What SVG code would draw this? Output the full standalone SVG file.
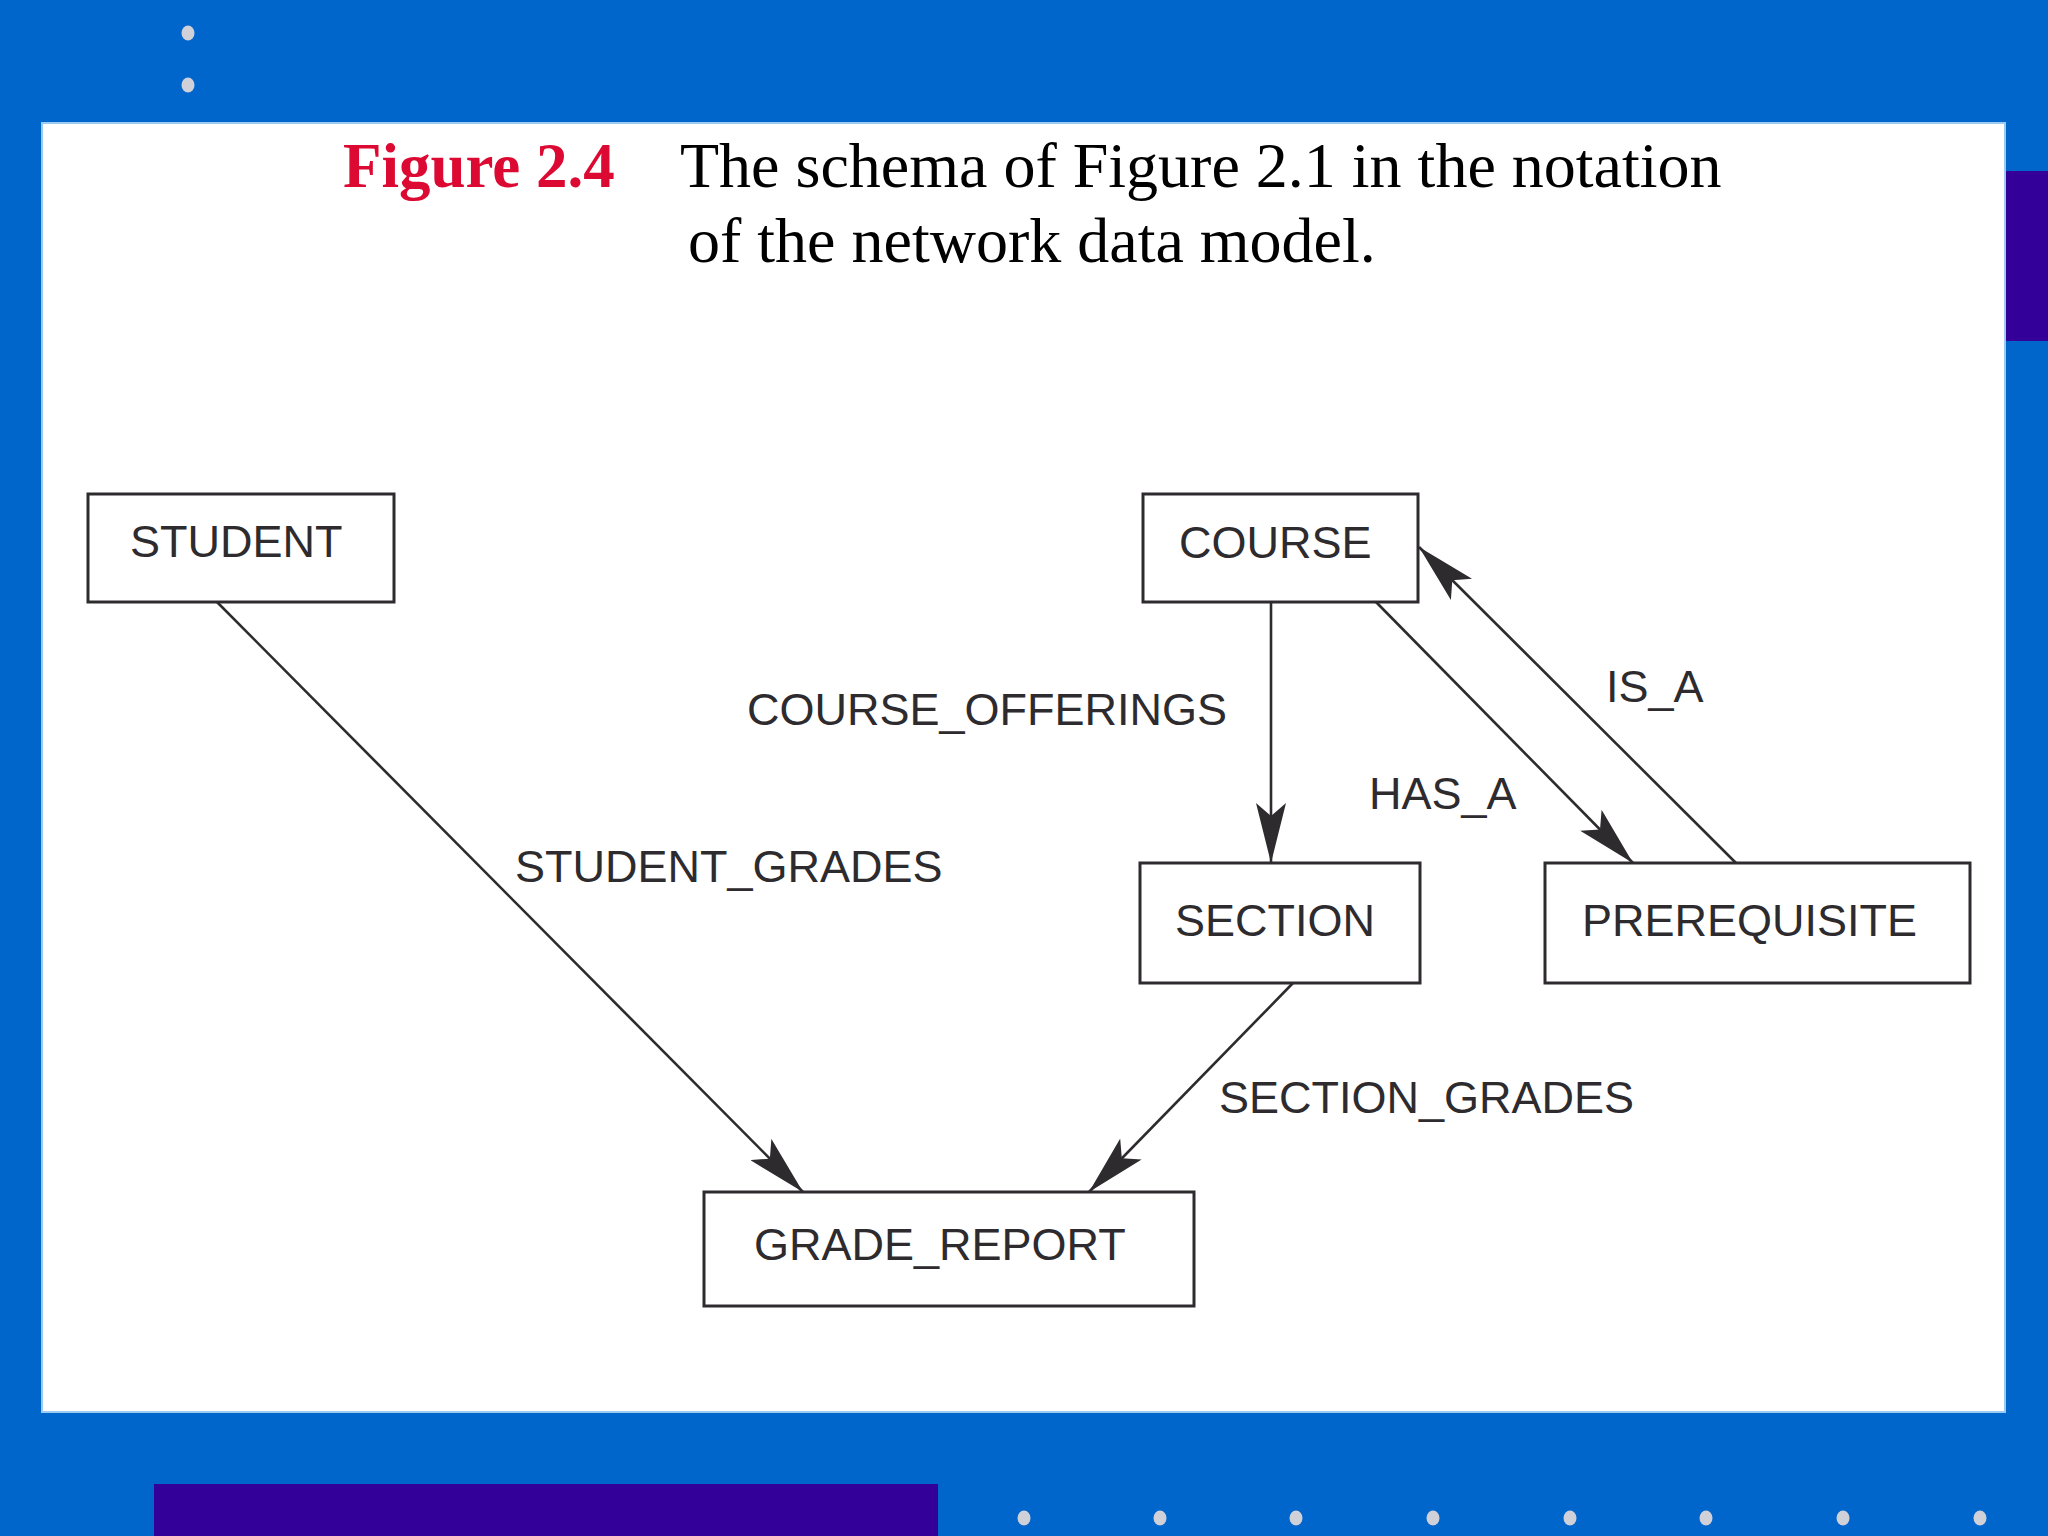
<svg xmlns="http://www.w3.org/2000/svg" width="2048" height="1536" viewBox="0 0 2048 1536">
<style>
.bg{fill:#0066CC}
.bar{fill:#330099}
.dot{fill:#D0D0D8}
.box{fill:#FFFFFF;stroke:#2E2B2E;stroke-width:3}
.nt{font-family:"Liberation Sans",Arial,sans-serif;font-size:45px;fill:#2E2B2E}
.lbl{font-family:"Liberation Sans",Arial,sans-serif;font-size:45px;fill:#2E2B2E}
.edge{fill:none;stroke:#2E2B2E;stroke-width:2.6}
.ttl{font-family:"Liberation Serif","Times New Roman",serif;font-size:64px;fill:#000000}
.fig{font-family:"Liberation Serif","Times New Roman",serif;font-size:63px;font-weight:bold;fill:#DC0A33}
</style>
<defs>
<marker id="arr" markerUnits="userSpaceOnUse" viewBox="0 0 60 30" refX="60" refY="15" markerWidth="60" markerHeight="30" orient="auto">
<path d="M60,15 L0,0 L13,15 L0,30 Z" fill="#2E2B2E"/>
</marker>
</defs>
<g id="background">
<rect class="bg" x="0" y="0" width="2048" height="1536"/>
<rect class="bar" x="2006" y="171" width="42" height="170"/>
<rect class="bar" x="154" y="1484" width="784" height="52"/>
<rect x="42" y="123" width="1963" height="1289" fill="#FFFFFF" stroke="#9CCBF2" stroke-width="2"/>
<ellipse class="dot" cx="188" cy="33" rx="6.5" ry="7.5"/>
<ellipse class="dot" cx="188" cy="85" rx="6.5" ry="7.5"/>
<ellipse class="dot" cx="1024" cy="1518" rx="6.5" ry="7.5"/>
<ellipse class="dot" cx="1160" cy="1518" rx="6.5" ry="7.5"/>
<ellipse class="dot" cx="1296" cy="1518" rx="6.5" ry="7.5"/>
<ellipse class="dot" cx="1433" cy="1518" rx="6.5" ry="7.5"/>
<ellipse class="dot" cx="1570" cy="1518" rx="6.5" ry="7.5"/>
<ellipse class="dot" cx="1706" cy="1518" rx="6.5" ry="7.5"/>
<ellipse class="dot" cx="1843" cy="1518" rx="6.5" ry="7.5"/>
<ellipse class="dot" cx="1980" cy="1518" rx="6.5" ry="7.5"/>
</g>
<g id="title">
<text class="fig" x="343" y="187">Figure 2.4</text>
<text class="ttl" x="680" y="187">The schema of Figure 2.1 in the notation</text>
<text class="ttl" x="688" y="262">of the network data model.</text>
</g>
<g id="connectors">
<line class="edge" x1="217" y1="602" x2="803" y2="1192" marker-end="url(#arr)"/>
<line class="edge" x1="1293" y1="983" x2="1089" y2="1192" marker-end="url(#arr)"/>
<line class="edge" x1="1271" y1="602" x2="1271" y2="863" marker-end="url(#arr)"/>
<line class="edge" x1="1376" y1="602" x2="1633" y2="863" marker-end="url(#arr)"/>
<line class="edge" x1="1736" y1="863" x2="1419" y2="547" marker-end="url(#arr)"/>
</g>
<g id="labels">
<text class="lbl" x="747" y="725">COURSE_OFFERINGS</text>
<text class="lbl" x="515" y="882">STUDENT_GRADES</text>
<text class="lbl" x="1606" y="702">IS_A</text>
<text class="lbl" x="1369" y="809">HAS_A</text>
<text class="lbl" x="1219" y="1113">SECTION_GRADES</text>
</g>
<g id="node-student">
<rect class="box" x="88" y="494" width="306" height="108"/>
<text class="nt" x="130" y="557">STUDENT</text>
</g>
<g id="node-course">
<rect class="box" x="1143" y="494" width="275" height="108"/>
<text class="nt" x="1179" y="558">COURSE</text>
</g>
<g id="node-section">
<rect class="box" x="1140" y="863" width="280" height="120"/>
<text class="nt" x="1175" y="936">SECTION</text>
</g>
<g id="node-prerequisite">
<rect class="box" x="1545" y="863" width="425" height="120"/>
<text class="nt" x="1582" y="936">PREREQUISITE</text>
</g>
<g id="node-grade-report">
<rect class="box" x="704" y="1192" width="490" height="114"/>
<text class="nt" x="754" y="1260">GRADE_REPORT</text>
</g>
</svg>
